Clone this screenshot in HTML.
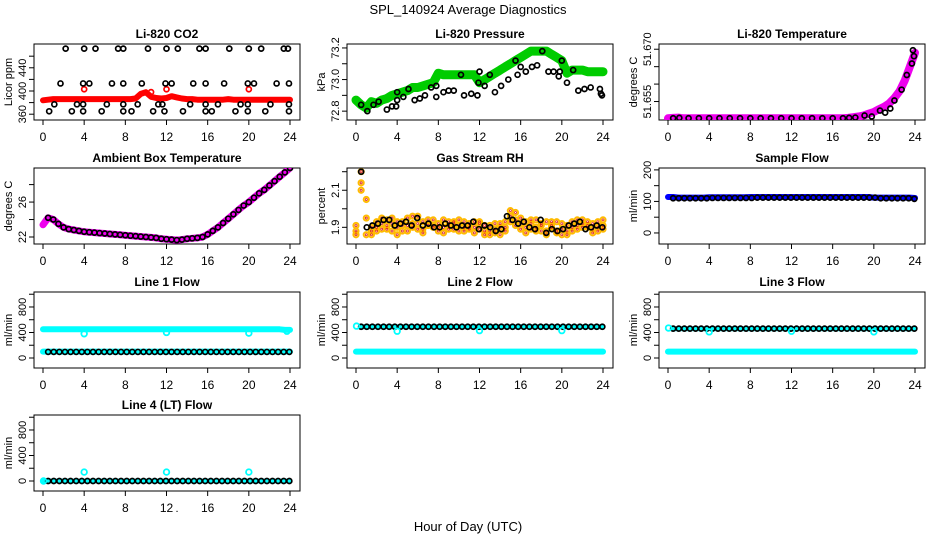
<!DOCTYPE html>
<html><head><meta charset="utf-8">
<style>
html,body{margin:0;padding:0;background:#fff;}
svg{display:block;font-family:"Liberation Sans",Arial,sans-serif;}
</style></head>
<body>
<svg id="chart" width="936" height="540" viewBox="0 0 936 540">
<text x="468" y="14" text-anchor="middle" font-size="13">SPL_140924  Average Diagnostics</text>
<text x="468" y="531" text-anchor="middle" font-size="13">Hour of Day (UTC)</text>
<text x="177" y="512" text-anchor="middle" font-size="11">.</text>
</svg>
<script>
// ---- data ----
const xTicks = [0,4,8,12,16,20,24];
const hb = []; for (let i = 0; i <= 48; i++) hb.push(i * 0.5);
const tc = []; for (let i = 0; i < 44; i++) tc.push(0.5 + i * 0.545);

const co2Top = [2.2,4,5.1,7.3,7.8,10.2,12,13.1,15.2,15.8,18.1,20,21.2,23.4,23.8];
const co2Mid = [1.7,3.9,4.5,6.7,7.8,9.6,11.9,12.5,14.6,15.8,17.6,19.9,20.5,22.7,23.9];
const co2Low = [1.1,3.3,3.9,6.2,7.8,9.2,11.2,11.6,14.3,15.8,17,19.2,19.9,22.1,23.9];
const co2Bot = [0.6,2.8,3.9,5.7,7.8,8.6,10.7,11.8,13.6,15.8,16.4,18.7,19.9,21.6,23.9];
const co2Levels = [473,413,377,365];
const co2Red = [384,385,386,386,386,386,386,386,386,386,386,386,386,386,386,386,386,386,387,395,398,390,388,387,388,391,389,387,386,386,385,385,385,385,385,385,386,385,385,385,385,385,385,385,385,385,385,385,385];
const co2RedOutH = [4,10.5,12,20];
const co2RedOutV = [403,398,403,403];

const presGreen = [72.87,72.84,72.82,72.86,72.85,72.87,72.88,72.90,72.91,72.92,72.93,72.95,72.95,72.96,72.97,72.98,73.04,73.03,73.03,73.03,73.03,73.03,73.03,73.03,72.98,73.00,73.02,73.04,73.06,73.08,73.10,73.12,73.14,73.16,73.18,73.18,73.18,73.18,73.16,73.14,73.12,73.04,73.06,73.06,73.06,73.05,73.05,73.05,73.05];
const presBlackH = [0.5,1.1,1.7,2.2,3,3.5,3.9,4,4,4.6,5.1,5.7,6.2,6.7,7.3,7.8,7.8,8.5,9,9.5,10.2,10.5,11.2,11.8,11.9,12,12.5,13,13.5,14.1,14.8,15.5,15.7,16,16.5,17.1,17.6,18.1,18.7,19.2,19.7,19.8,20,20.5,21.1,21.6,22.2,22.8,23.7,23.8,23.9];
const presBlackV = [72.84,72.80,72.84,72.86,72.81,72.83,72.83,72.87,72.92,72.89,72.94,72.87,72.88,72.90,72.95,72.96,72.89,72.92,72.93,72.93,73.03,72.90,72.91,72.90,72.98,73.05,72.96,73.03,72.92,72.96,73.00,73.12,73.03,73.08,73.05,73.08,73.09,73.18,73.05,73.05,73.02,73.05,73.12,72.98,73.06,72.93,72.94,72.95,72.94,72.91,72.90];

const tempMag = [51.6502,51.6503,51.6504,51.6502,51.6502,51.6502,51.6502,51.6502,51.6502,51.6502,51.6502,51.6502,51.6502,51.6502,51.6502,51.6502,51.6502,51.6502,51.6502,51.6502,51.6502,51.6502,51.6502,51.6502,51.6502,51.6502,51.6502,51.6502,51.6502,51.6502,51.6502,51.6502,51.6502,51.6502,51.6502,51.6503,51.6505,51.6507,51.6510,51.6515,51.6520,51.6528,51.6535,51.6545,51.6560,51.6580,51.6610,51.6650,51.6690];
const tempBlkH = [0.5,1.1,2,3,4,5,6,7,8,9,10,11,12,13,14,15,16,17,17.6,18.2,19.1,19.8,20.6,21.1,21.6,22,22.7,23.2,23.7,23.8,23.9];
const tempBlkV = [51.6502,51.6503,51.6502,51.6502,51.6502,51.6502,51.6502,51.6502,51.6502,51.6502,51.6502,51.6502,51.6502,51.6502,51.6502,51.6502,51.6502,51.6502,51.6503,51.6504,51.6510,51.6507,51.6524,51.6518,51.6530,51.6553,51.6584,51.6626,51.6659,51.6697,51.6680];

const ambMag = [23.4,24.2,24.0,23.5,23.1,22.9,22.8,22.7,22.6,22.55,22.5,22.45,22.4,22.35,22.3,22.25,22.2,22.15,22.1,22.05,22.0,21.95,21.9,21.8,21.75,21.7,21.65,21.7,21.8,21.85,21.9,22.0,22.3,22.7,23.1,23.6,24.1,24.6,25.1,25.6,26.0,26.5,27.0,27.4,27.9,28.4,28.9,29.4,29.9];

const rhA = [1.88,2.20,1.86,1.90,1.93,1.95,1.94,1.92,1.90,1.93,1.95,1.92,1.96,1.93,1.91,1.90,1.92,1.94,1.89,1.92,1.91,1.93,1.90,1.87,1.92,1.91,1.88,1.92,1.86,1.90,1.96,1.98,1.95,1.93,1.94,1.90,1.88,1.93,1.90,1.87,1.86,1.91,1.93,1.94,1.92,1.90,1.89,1.93,1.91];
const rhB = [1.86,2.14,2.05,1.88,1.90,1.92,1.89,1.95,1.93,1.88,1.91,1.96,1.92,1.89,1.94,1.91,1.88,1.90,1.93,1.89,1.94,1.88,1.92,1.93,1.89,1.86,1.91,1.89,1.90,1.93,1.99,1.94,1.92,1.90,1.89,1.94,1.92,1.88,1.91,1.93,1.89,1.88,1.90,1.91,1.94,1.93,1.92,1.88,1.94];
const rhC = [1.91,2.10,1.95,1.86,1.88,1.89,1.91,1.88,1.86,1.91,1.88,1.90,1.89,1.87,1.91,1.94,1.90,1.87,1.91,1.93,1.88,1.90,1.89,1.90,1.93,1.88,1.86,1.87,1.92,1.88,1.93,1.91,1.89,1.87,1.92,1.88,1.91,1.86,1.93,1.88,1.92,1.86,1.88,1.89,1.90,1.91,1.87,1.90,1.89];
const rhBlack = [2.20,1.90,1.91,1.92,1.94,1.94,1.91,1.92,1.93,1.91,1.95,1.91,1.92,1.90,1.90,1.92,1.91,1.90,1.91,1.91,1.93,1.89,1.91,1.90,1.88,1.89,1.96,1.94,1.92,1.93,1.90,1.89,1.94,1.87,1.89,1.88,1.89,1.91,1.92,1.93,1.89,1.90,1.91,1.90];

const sfBlue = [114,114,112,112,112,112,112,112,113,113,113,113,113,113,113,113,114,114,114,114,114,114,114,114,114,114,114,114,114,114,114,114,114,114,114,114,114,114,114,114,112,112,112,112,112,112,112,112,111];
const sfBlack = [110,110,110,110,110,110,110,111,111,111,111,111,111,111,111,112,112,112,112,112,112,112,112,112,112,112,112,112,112,112,112,112,112,112,112,112,112,110,110,110,110,110,110,108];

const l1CyanHi = [450,450,450,450,450,450,450,450,450,450,450,450,450,450,450,450,450,450,450,450,450,450,450,450,450,450,450,450,450,450,450,450,450,450,450,450,450,450,450,450,450,450,450,450,450,450,450,440,440];
const l1CyanLo = [100,100,100,100,100,100,100,100,100,100,100,100,100,100,100,100,100,100,100,100,100,100,100,100,100,100,100,100,100,100,100,100,100,100,100,100,100,100,100,100,100,100,100,100,100,100,100,100,100];
const l1Black = [95,95,95,95,95,95,95,95,95,95,95,95,95,95,95,95,95,95,95,95,95,95,95,95,95,95,95,95,95,95,95,95,95,95,95,95,95,95,95,95,95,95,95,95];
const l1OutH = [4,12,20,23.7]; const l1OutV = [380,400,390,420];

const l2CyanLo = [100,100,100,100,100,100,100,100,100,100,100,100,100,100,100,100,100,100,100,100,100,100,100,100,100,100,100,100,100,100,100,100,100,100,100,100,100,100,100,100,100,100,100,100,100,100,100,100,100];
const l2Black = [490,490,490,490,490,490,490,490,490,490,490,490,490,490,490,490,490,490,490,490,490,490,490,490,490,490,490,490,490,490,490,490,490,490,490,490,490,490,490,490,490,490,490,490];
const l2OutH = [0.05,4,12,20]; const l2OutV = [500,420,430,430];

const l3CyanLo = l2CyanLo.slice();
const l3Black = [460,460,460,460,460,460,460,460,460,460,460,460,460,460,460,460,460,460,460,460,460,460,460,460,460,460,460,460,460,460,460,460,460,460,460,460,460,460,460,460,460,460,460,460];
const l3OutH = [0.05,4,12,20]; const l3OutV = [470,410,420,410];

const l4Cyan = [0,0,0,0,0,0,0,0,0,0,0,0,0,0,0,0,0,0,0,0,0,0,0,0,0,0,0,0,0,0,0,0,0,0,0,0,0,0,0,0,0,0,0,0,0,0,0,0,0];
const l4Black = [0,0,0,0,0,0,0,0,0,0,0,0,0,0,0,0,0,0,0,0,0,0,0,0,0,0,0,0,0,0,0,0,0,0,0,0,0,0,0,0,0,0,0,0];
const l4OutH = [0.05,4,12,20]; const l4OutV = [0,140,140,140];

// ---- drawing ----
const NS = "http://www.w3.org/2000/svg";
const svg = document.getElementById('chart');
const colL = [34, 347, 659], rowT = [44, 168, 292, 415], PW = 266, PH = 76;
function mk(tag, parent, attrs) {
  const e = document.createElementNS(NS, tag);
  for (const k in attrs) e.setAttribute(k, attrs[k]);
  parent.appendChild(e);
  return e;
}
function panel(c, r, title, ylab, yMin, yMax, yTicks, yLabels, key) {
  const g = mk('g', svg, {});
  
  
  const L = colL[c], T = rowT[r];
  const sx = h => L + 9 + h * (247 / 24);
  const sy = v => T + PH - (v - yMin) / (yMax - yMin) * PH;
  const t = mk('text', g, {x: L + PW / 2, y: T - 6, 'text-anchor': 'middle', 'font-size': 12, 'font-weight': 'bold'});
  t.textContent = title;
  
  
  const box = mk('rect', g, {x: L, y: T, width: PW, height: PH, fill: 'none', stroke: '#000', 'stroke-width': 1});
  
  
  const yl = mk('text', g, {x: 0, y: 0, 'text-anchor': 'middle', 'font-size': 11, transform: `translate(${L - 22},${T + PH / 2}) rotate(-90)`});
  yl.textContent = ylab;
  
  
  const xa = mk('g', g, {});
  
  
  mk('line', xa, {x1: sx(0), x2: sx(24), y1: T + PH, y2: T + PH, stroke: '#000'});
  xTicks.forEach(h => {
    mk('line', xa, {x1: sx(h), x2: sx(h), y1: T + PH, y2: T + PH + 5, stroke: '#000'});
    const tl = mk('text', xa, {x: sx(h), y: T + PH + 21, 'text-anchor': 'middle', 'font-size': 12});
    tl.textContent = h;
    
    
  });
  const ya = mk('g', g, {});
  
  
  yTicks.forEach(v => {
    mk('line', ya, {x1: L - 5, x2: L, y1: sy(v), y2: sy(v), stroke: '#000'});
  });
  yLabels.forEach(v => {
    const tl = mk('text', ya, {x: 0, y: 0, 'text-anchor': 'middle', 'font-size': 11, transform: `translate(${L - 8},${sy(v)}) rotate(-90)`});
    tl.textContent = v;
    
    
  });
  const clip = 'clip' + key;
  const cp = mk('clipPath', g, {id: clip});
  mk('rect', cp, {x: L, y: T, width: PW, height: PH});
  const marks = mk('g', g, {'clip-path': `url(#${clip})`});
  
  
  return {sx, sy, g: marks};
}
function pts(p, hs, vs, color, name, r, sw) {
  hs.forEach((h, i) => {
    const c = mk('circle', p.g, {cx: p.sx(h), cy: p.sy(vs[i]), r: r || 2.5, fill: 'none', stroke: color, 'stroke-width': sw || 1.7});
    
    
  });
}
function band(p, hs, vs, color, name, w) {
  const d = hs.map((h, i) => (i ? 'L' : 'M') + p.sx(h).toFixed(1) + ',' + p.sy(vs[i]).toFixed(1)).join('');
  const e = mk('path', p.g, {d: d, fill: 'none', stroke: color, 'stroke-width': w, 'stroke-linecap': 'round', 'stroke-linejoin': 'round'});
  
  
}

// Li-820 CO2
let p = panel(0, 0, 'Li-820 CO2', 'Licor ppm', 350, 481, [360,380,400,420,440,460], [360,400,440], 'co2');
band(p, hb, co2Red, '#f00', 'co2-red-band', 6);
pts(p, co2RedOutH, co2RedOutV, '#f00', 'co2-red-point');
[co2Top, co2Mid, co2Low, co2Bot].forEach((hs, k) => pts(p, hs, hs.map(() => co2Levels[k]), '#000', 'co2-black-point'));

// Pressure
p = panel(1, 0, 'Li-820 Pressure', 'kPa', 72.744, 73.225, [72.8,72.9,73.0,73.1,73.2], ['72.8','73.0','73.2'], 'pressure');
band(p, hb, presGreen, '#0c0', 'pressure-green-band', 9);
pts(p, presBlackH, presBlackV, '#000', 'pressure-black-point');

// Li-820 Temperature
p = panel(2, 0, 'Li-820 Temperature', 'degrees C', 51.6497, 51.6715, [51.655,51.660,51.665,51.670], ['51.655','51.670'], 'li820-temp');
band(p, hb, tempMag, '#e0e', 'temp-magenta-band', 8);
pts(p, tempBlkH, tempBlkV, '#000', 'temp-black-point');

// Ambient box temperature
p = panel(0, 1, 'Ambient Box Temperature', 'degrees C', 21.2, 29.9, [22,24,26,28], [22,26], 'ambient');
band(p, hb, ambMag, '#e0e', 'ambient-magenta-band', 7);
pts(p, hb.slice(1), ambMag.slice(1), '#000', 'ambient-black-point');

// Gas stream RH
p = panel(1, 1, 'Gas Stream RH', 'percent', 1.81, 2.22, [1.9,2.0,2.1,2.2], ['1.9','2.1'], 'rh');
[rhA, rhB, rhC].forEach(arr => pts(p, hb, arr, '#fb0', 'rh-orange-point', 2.6, 2));
[rhA, rhB, rhC].forEach(arr => pts(p, hb, arr, '#d22', 'rh-red-point', 1, 0.8));
pts(p, tc, rhBlack, '#000', 'rh-black-point');

// Sample flow
p = panel(2, 1, 'Sample Flow', 'ml/min', -35, 206, [0,50,100,150,200], [0,100,200], 'sample-flow');
band(p, hb, sfBlue, '#00f', 'sample-blue-band', 6);
pts(p, tc, sfBlack, '#000', 'sample-black-point');

const flowTicks = [0,200,400,600,800,1000], flowLabels = [0,400,800];
// Line 1
p = panel(0, 2, 'Line 1 Flow', 'ml/min', -157, 1035, flowTicks, flowLabels, 'line1');
band(p, hb, l1CyanHi, '#0ff', 'line1-cyan-high', 6);
band(p, hb, l1CyanLo, '#0ff', 'line1-cyan-low', 6);
pts(p, tc, l1Black, '#000', 'line1-black-point');
pts(p, l1OutH, l1OutV, '#0ff', 'line1-cyan-outlier', 2.8, 1.8);
// Line 2
p = panel(1, 2, 'Line 2 Flow', 'ml/min', -157, 1035, flowTicks, flowLabels, 'line2');
band(p, hb, l2CyanLo, '#0ff', 'line2-cyan-low', 6);
band(p, tc, l2Black, '#0ff', 'line2-cyan-high', 5);
pts(p, tc, l2Black, '#000', 'line2-black-point');
pts(p, l2OutH, l2OutV, '#0ff', 'line2-cyan-outlier', 2.8, 1.8);
// Line 3
p = panel(2, 2, 'Line 3 Flow', 'ml/min', -157, 1035, flowTicks, flowLabels, 'line3');
band(p, hb, l3CyanLo, '#0ff', 'line3-cyan-low', 6);
band(p, tc, l3Black, '#0ff', 'line3-cyan-high', 5);
pts(p, tc, l3Black, '#000', 'line3-black-point');
pts(p, l3OutH, l3OutV, '#0ff', 'line3-cyan-outlier', 2.8, 1.8);
// Line 4
p = panel(0, 3, 'Line 4 (LT) Flow', 'ml/min', -157, 1035, flowTicks, flowLabels, 'line4');
band(p, hb, l4Cyan, '#0ff', 'line4-cyan-band', 5);
pts(p, tc, l4Black, '#000', 'line4-black-point');
pts(p, l4OutH, l4OutV, '#0ff', 'line4-cyan-outlier', 2.8, 1.8);
</script>
</body></html>
